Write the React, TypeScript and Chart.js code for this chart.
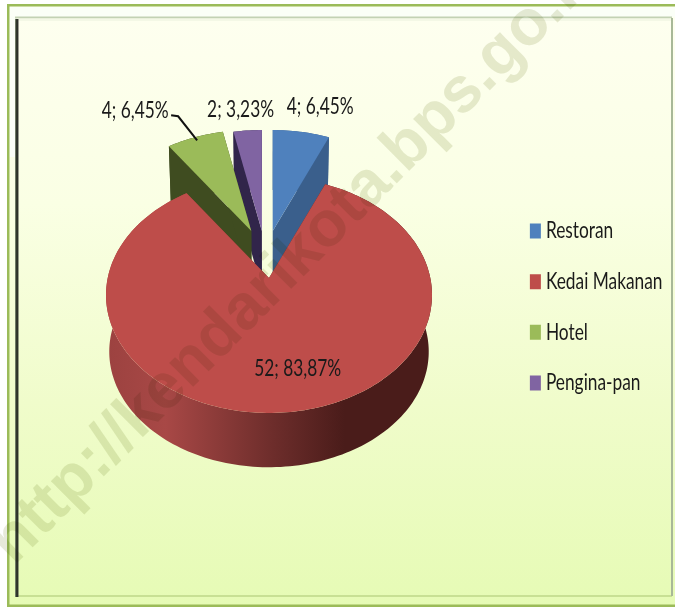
import React, { useEffect, useRef } from "react";
import { Chart, registerables, DoughnutController } from "chart.js";

Chart.register(...registerables);

const categories = ["Restoran", "Kedai Makanan", "Hotel", "Pengina-pan"];
const values = [4, 52, 4, 2];
const explode = [47, 0, 47, 47];
const faceColors = ["#4F81BD", "#BE4D4A", "#9BBB59", "#8064A2"];
const wallColors = ["#3A5F8C", "#4A1C1A", "#3F4C20", "#31254A"];

const FONT = 'Lato, "Open Sans", sans-serif';
const TEXT_SQUEEZE = 0.753;
const P = { cx: 269, cy: 278, f: 161.3, g: 115.5, k: 0.144, s: 0.98, drop: 57 };

type Pt = { x: number; y: number };

function rim(theta: number, rho: number): Pt {
  const X = rho * Math.sin(theta);
  const Y = -rho * Math.cos(theta);
  const w = 1 - P.k * Y;
  return { x: P.cx + (P.f * X) / w, y: P.cy + (P.g * Y) / w };
}
const lower = (p: Pt): Pt => ({
  x: P.cx + (p.x - P.cx) * P.s,
  y: P.cy + (p.y - P.cy) * P.s + P.drop,
});
function shiftOf(arc: any): Pt {
  const o = arc.options.offset || 0;
  if (!o) return { x: 0, y: 0 };
  const mid = (arc.startAngle + arc.endAngle) / 2 + Math.PI / 2;
  return { x: -3.5 + 36 * Math.sin(mid), y: -o };
}
function tracePoly(ctx: CanvasRenderingContext2D, pts: Pt[]) {
  ctx.beginPath();
  pts.forEach((p, i) => (i ? ctx.lineTo(p.x, p.y) : ctx.moveTo(p.x, p.y)));
  ctx.closePath();
}

function paintSlice(ctx: CanvasRenderingContext2D, arc: any, index: number) {
  const a0 = arc.startAngle + Math.PI / 2;
  const a1 = arc.endAngle + Math.PI / 2;
  const sh = shiftOf(arc);
  const steps = Math.max(8, Math.ceil((a1 - a0) * 40));
  const top: Pt[] = [];
  for (let i = 0; i <= steps; i++) {
    const p = rim(a0 + ((a1 - a0) * i) / steps, 1);
    top.push({ x: p.x + sh.x, y: p.y + sh.y });
  }
  const apex = rim(0, 0);
  const tip = { x: apex.x + sh.x, y: apex.y + sh.y };
  let wall: string | CanvasGradient = wallColors[index];
  if (index === 1) {
    const g = ctx.createLinearGradient(107, 0, 432, 0);
    g.addColorStop(0, "#9C4240");
    g.addColorStop(0.18, "#A84846");
    g.addColorStop(0.5, "#6F2E2C");
    g.addColorStop(0.73, "#4A1C1A");
    g.addColorStop(1, "#4A1C1A");
    wall = g;
  }
  ctx.fillStyle = wall;
  tracePoly(ctx, [...top, ...top.map(lower).reverse()]);
  ctx.fill();
  tracePoly(ctx, [top[0], tip, lower(tip), lower(top[0])]);
  ctx.fill();
  tracePoly(ctx, [top[steps], tip, lower(tip), lower(top[steps])]);
  ctx.fill();
  ctx.fillStyle = arc.options.backgroundColor;
  tracePoly(ctx, [tip, ...top]);
  ctx.fill();
}

(DoughnutController.prototype as any).draw = function () {
  const ctx = this.chart.ctx;
  const arcs = this._cachedMeta.data.map((arc: any, i: number) => ({ arc, i }));
  arcs.sort(
    (a: any, b: any) =>
      a.arc.endAngle - a.arc.startAngle - (b.arc.endAngle - b.arc.startAngle)
  );
  arcs.forEach(({ arc, i }: any) => paintSlice(ctx, arc, i));
};

// The reference's text is tall and narrow, and no condensed face is installed:
// every text call on this context is squeezed horizontally. Legend labels also
// sit closer to their swatches than Chart.js's half-font-size gap.
let squeeze = TEXT_SQUEEZE;
function squeezeText(ctx: any) {
  const fill = ctx.fillText.bind(ctx);
  const measure = ctx.measureText.bind(ctx);
  ctx.fillText = (t: string, x: number, y: number) => {
    ctx.save();
    ctx.translate(categories.includes(t) ? x - 6.5 : x, y);
    ctx.scale(squeeze, 1);
    fill(t, 0, 0);
    ctx.restore();
  };
  ctx.measureText = (t: string) => {
    const m = measure(t);
    return {
      width: m.width * squeeze,
      actualBoundingBoxLeft: m.actualBoundingBoxLeft,
      actualBoundingBoxRight: m.actualBoundingBoxRight,
    };
  };
}

const framePlugin = {
  id: "frame",
  beforeDraw(chart: any) {
    const { ctx, width: W, height: H } = chart;
    ctx.save();
    ctx.fillStyle = "#FFFFFF";
    ctx.fillRect(0, 0, W, H);
    const g = ctx.createLinearGradient(0, 6, 0, 605);
    g.addColorStop(0, "#FEFFF0");
    g.addColorStop(0.33, "#FAFFE4");
    g.addColorStop(0.66, "#F0FCCB");
    g.addColorStop(1, "#E6FBB5");
    ctx.fillStyle = g;
    ctx.fillRect(8, 5, W - 8, H - 7);
    ctx.fillStyle = "#FBFFF7";
    ctx.fillRect(9, 7, W - 9, 10);
    ctx.fillRect(9, 7, 6, 150);
    ctx.fillStyle = "#9BBB59";
    ctx.fillRect(7, 4, W - 7, 2.5);
    ctx.fillRect(7, 4, 2.5, H - 6);
    ctx.fillRect(7, 604.5, W - 7, 2.5);
    ctx.fillStyle = "#C3D2B4";
    ctx.fillRect(15, 16.5, W - 18, 2);
    ctx.fillStyle = "#F4F8E6";
    ctx.fillRect(17, 18.5, W - 21, 2.5);
    ctx.fillStyle = "#C8E094";
    ctx.fillRect(15, 595, W - 18, 2);
    ctx.fillStyle = "#A8B898";
    ctx.fillRect(671, 18, 2, 578);
    const d = ctx.createLinearGradient(15, 0, 18.5, 0);
    d.addColorStop(0, "#8D9C80");
    d.addColorStop(0.5, "#22271F");
    d.addColorStop(1, "#3A4036");
    ctx.fillStyle = d;
    ctx.fillRect(15, 19, 3.5, 578);
    ctx.restore();
  },
};

const annotatePlugin = {
  id: "annotate",
  afterDatasetsDraw(chart: any) {
    const { ctx } = chart;
    const arcs = chart.getDatasetMeta(0).data;
    const total = values.reduce((s, v) => s + v, 0);
    const nudges = [
      { x: 19, y: -25 },
      { x: 16, y: 1 },
      { x: -60, y: -27 },
      { x: -7, y: -21 },
    ];
    ctx.save();
    ctx.font = `23px ${FONT}`;
    ctx.fillStyle = "#1A1A1A";
    ctx.textAlign = "center";
    ctx.textBaseline = "middle";
    arcs.forEach((arc: any, i: number) => {
      const mid = (arc.startAngle + arc.endAngle) / 2 + Math.PI / 2;
      const sh = shiftOf(arc);
      const p = rim(mid, arc.options.offset ? 1 : 0.7);
      const ax = p.x + sh.x;
      const ay = p.y + sh.y;
      const pct = ((values[i] / total) * 100).toFixed(2).replace(".", ",");
      ctx.fillText(`${values[i]}; ${pct}%`, ax + nudges[i].x, ay + nudges[i].y);
      if (categories[i] === "Hotel") {
        ctx.strokeStyle = "#111";
        ctx.lineWidth = 2;
        ctx.beginPath();
        ctx.moveTo(ax - 24, ay - 22);
        ctx.lineTo(ax - 17, ay - 21);
        ctx.lineTo(ax + 2, ay + 3);
        ctx.stroke();
      }
    });
    ctx.restore();
  },
  afterDraw(chart: any) {
    const { ctx } = chart;
    ctx.save();
    squeeze = 1;
    ctx.translate(14, 566);
    ctx.rotate(-Math.PI / 4);
    ctx.font = 'bold 64px "Liberation Sans", sans-serif';
    ctx.globalCompositeOperation = "multiply";
    ctx.fillStyle = "#E7E9DA";
    ctx.textAlign = "left";
    ctx.textBaseline = "alphabetic";
    ctx.fillText("http://kendarikota.bps.go.id", 0, 0);
    squeeze = TEXT_SQUEEZE;
    ctx.restore();
  },
};

export default function App() {
  const ref = useRef<HTMLCanvasElement>(null);
  useEffect(() => {
    const canvas = ref.current as HTMLCanvasElement;
    squeezeText(canvas.getContext("2d"));
    const chart = new Chart(canvas, {
      type: "pie",
      data: {
        labels: categories,
        datasets: [
          {
            data: values,
            backgroundColor: faceColors,
            offset: explode,
            borderWidth: 0,
          } as any,
        ],
      },
      options: {
        responsive: false,
        animation: false,
        layout: { padding: { top: 6, right: -4, bottom: 0, left: 0 } },
        plugins: {
          tooltip: { enabled: false },
          legend: {
            position: "right",
            labels: {
              boxWidth: 11,
              boxHeight: 15,
              padding: 27.7,
              color: "#1A1A1A",
              font: { family: FONT, size: 23 },
            },
          },
        },
      },
      plugins: [framePlugin, annotatePlugin],
    });
    return () => chart.destroy();
  }, []);
  return (
    <canvas
      ref={ref}
      width={675}
      height={608}
      style={{ position: "absolute", left: 0, top: 0, width: 675, height: 608 }}
    />
  );
}
